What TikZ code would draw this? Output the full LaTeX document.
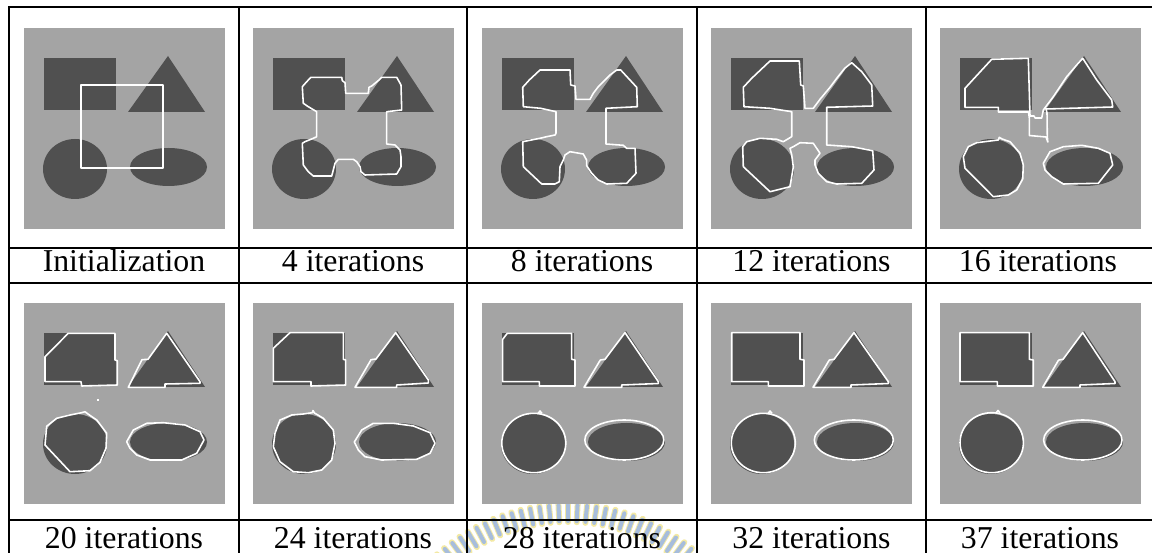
\documentclass[tikz,border=0pt]{standalone}
\usepackage{fontspec}
\setmainfont{Liberation Serif}
\usetikzlibrary{calc}
\definecolor{bggray}{HTML}{A4A4A4}
\definecolor{shapegray}{HTML}{505050}
\definecolor{sealyellow}{HTML}{F1E48E}
\definecolor{sealblue}{HTML}{94B2EA}
\tikzset{
  rule/.style={line width=1.4pt, black, line cap=rect},
  contour/.style={draw=white, line width=0.9pt, line join=round},
  caption/.style={anchor=base, inner sep=0pt, text depth=0pt, font=\fontsize{18.1}{20}\selectfont},
  sealray/.style={line cap=round, opacity=0.8},
}
% gray field with the four dark objects, in local pixel units
\newcommand\panelbase{%
  \fill[bggray] (0,0) rectangle (201,201);
  \fill[shapegray] (20,30) rectangle (92,82);
  \fill[shapegray] (144,28) -- (181,84) -- (104,84) -- cycle;
  \fill[shapegray] (51,141) ellipse [x radius=32, y radius=30];
  \fill[shapegray] (144.5,139) ellipse [x radius=38.5, y radius=19];
}
\begin{document}
\begin{tikzpicture}[x=0.02cm, y=-0.02cm]
\useasboundingbox (0,0) rectangle (1152,553);
\fill[white] (0,0) rectangle (1152,553);

% faint seal behind the lower captions
\begin{scope}
  \clip (0,0) rectangle (1152,553);
  \coordinate (seal) at (568,700);
  \foreach \a in {228,230.8,...,312} {
    \draw[sealray, sealyellow, line width=3.4pt] ($(seal)+(\a:178)$) -- ($(seal)+(\a:196)$);
    \draw[sealray, sealblue, line width=2.3pt] ($(seal)+(\a:179)$) -- ($(seal)+(\a:195)$);
  }
\end{scope}

% ---------------- first row ----------------
\begin{scope}[shift={(24,28)}]
  \panelbase
  \draw[contour] (57,57) rectangle (139,140);
\end{scope}

\begin{scope}[shift={(253,28)}]
  \panelbase
  \draw[contour] (58,49.3) -- (88.7,49.3) -- (89.3,52.7) -- (92,54.7) -- (92.7,65.3)
    -- (115.3,65.3) -- (116,59.3) -- (118.7,58) -- (126,52) -- (128.7,49.3)
    -- (143.7,49.3) -- (148,57) -- (148.7,82) -- (133.7,83.7) -- (133.7,116)
    -- (142,117) -- (147,122) -- (148,128.7) -- (148,138.7) -- (143.7,146)
    -- (112,147) -- (108,143.7) -- (107,138.7) -- (103.7,133.7) -- (100.3,131.3)
    -- (85.3,131.3) -- (82,135.3) -- (80.3,142) -- (78.7,148) -- (60.3,148)
    -- (55.3,143.7) -- (50.3,137) -- (49.3,115.3) -- (52,113.7) -- (60.3,110.3)
    -- (63.7,108.7) -- (63.7,83.7) -- (55.3,78.7) -- (50.3,75.3) -- (49.3,58.7)
    -- (53.7,53.7) -- cycle;
\end{scope}

\begin{scope}[shift={(482,28)}]
  \panelbase
  \draw[contour] (58,42) -- (88,42) -- (88.7,57) -- (93,58) -- (94,71.3)
    -- (108,71.3) -- (111.3,65.3) -- (116.3,58.7) -- (121.3,53.7) -- (128,47)
    -- (134.7,42) -- (138.7,42) -- (154.7,59.3) -- (155.3,78.7) -- (124,80.3)
    -- (124,116) -- (141.3,117.3) -- (144.7,120.3) -- (153,120.3) -- (154,145.3)
    -- (144.7,155.3) -- (124.7,156) -- (116.3,152) -- (109.7,145.3) -- (104.7,137.7)
    -- (104.7,132.3) -- (101.3,126) -- (88,123.7) -- (83,127) -- (81.3,132)
    -- (78,138.7) -- (77.3,153.7) -- (73,156) -- (59.7,156) -- (41.3,138.7)
    -- (40.7,113.7) -- (58,110.3) -- (64.7,108.7) -- (73,107) -- (74,105.3)
    -- (74,83.7) -- (58.7,80.3) -- (41.3,78.7) -- (40.7,59.3) -- (47.3,52) -- cycle;
\end{scope}

\begin{scope}[shift={(711,28)}]
  \panelbase
  \draw[contour] (59,33) -- (88.3,33) -- (89.7,57) -- (92.3,58) -- (94,80.3)
    -- (102.3,80.3) -- (109,71.3) -- (119,59.3) -- (125.7,50.3) -- (133.7,40.3)
    -- (140.7,34.7) -- (150.7,43.7) -- (160.7,57) -- (161.7,78) -- (115.7,79.3)
    -- (115.7,117) -- (140.7,118.7) -- (161.7,122.7) -- (163,142) -- (150.7,155.3)
    -- (125.7,156) -- (115.7,153.7) -- (107.3,145.3) -- (104,137) -- (104,132)
    -- (109,125.3) -- (102.3,115.3) -- (89,114.7) -- (82.3,118.7) -- (79,120.3)
    -- (80.7,126.7) -- (82.3,139) -- (79,158.7) -- (59,163.7) -- (32.3,138.7)
    -- (31.7,118.7) -- (35.7,113.7) -- (49,110.3) -- (65.7,111.3) -- (72.3,113.7)
    -- (80.7,108.7) -- (80.7,83.7) -- (59,80.3) -- (33,78.7) -- (32.3,59.3)
    -- (40.7,50.3) -- cycle;
\end{scope}

\begin{scope}[shift={(940,28)}]
  \panelbase
  \draw[contour] (51.7,31.3) -- (88.3,30.3) -- (90,88) -- (94,88) -- (95,90)
    -- (101.7,90) -- (103.3,82) -- (113.3,68.7) -- (126.7,48.7) -- (136.7,37)
    -- (142.7,30.3) -- (156.7,52) -- (171.7,72) -- (172.7,79) -- (106,81)
    -- (107,85) -- (107.3,108.7) -- (107.8,114) -- (106,109) -- (89.3,107.5)
    -- (89.3,90) -- (88.5,84) -- (58.3,84) -- (58.3,79.3) -- (25,79.3)
    -- (25,60.3) -- cycle;
  \draw[contour] (28.3,118.7) -- (36.7,114.7) -- (58.3,112) -- (59.3,109.3)
    -- (62,111) -- (70,113.7) -- (80,125.3) -- (83.3,137) -- (82.7,151)
    -- (76.7,162) -- (68.3,167) -- (53.3,168.7) -- (25,140.3) -- (23.3,128.7) -- cycle;
  \draw[contour] (103.3,135.3) -- (110,123.7) -- (123.3,118.7) -- (141.7,117.3)
    -- (158.3,120.3) -- (170,125.3) -- (172.7,137) -- (158.3,155.3) -- (123.3,156)
    -- (111.7,148.7) -- (105,142) -- cycle;
\end{scope}

% ---------------- second row ----------------
\begin{scope}[shift={(24,303)}]
  \panelbase
  \draw[contour] (44.3,30.3) -- (91,30.3) -- (91,57) -- (93.3,57.7) -- (93.3,82)
    -- (57.7,83) -- (57,78.7) -- (21,78.7) -- (21,53.7) -- cycle;
  \draw[contour] (142.7,30.3) -- (176,78.7) -- (176,80.3) -- (141,81) -- (141,84.3)
    -- (104.3,84.3) -- (117.3,58) -- (118,56.7) -- (124,56.3) -- cycle;
  \fill[white] (72.5,96) rectangle (75,98.5);
  \draw[contour] (57.7,109.7) -- (61,108.7) -- (64,111) -- (72.7,117) -- (82.7,130.3)
    -- (82,145.3) -- (76,159.3) -- (66,167.7) -- (46,168.7) -- (21,142)
    -- (22.7,123.3) -- (32.7,115.3) -- (46,112) -- cycle;
  \draw[contour] (102.7,138.7) -- (109.3,127) -- (122.7,120.3) -- (139.3,119.7)
    -- (161,122) -- (176,128.7) -- (180,137) -- (172.7,150.3) -- (157.7,157)
    -- (126,157) -- (112.7,152) -- (106,145.3) -- cycle;
\end{scope}

\begin{scope}[shift={(253,303)}]
  \panelbase
  \draw[contour] (37,29.7) -- (90.3,29.7) -- (90.3,56.3) -- (92.7,57) -- (92.7,82)
    -- (58,83) -- (58,78.7) -- (20.3,78.7) -- (20.3,45.3) -- cycle;
  \draw[contour] (142.7,29.7) -- (175.3,77) -- (175.3,80) -- (143.7,82) -- (143.7,84.3)
    -- (102,84.3) -- (117.3,58) -- (118,56.7) -- (123,56) -- cycle;
  \draw[contour] (22,130.3) -- (27,117) -- (38.7,112) -- (50.3,111) -- (59.3,109.7)
    -- (60,107.5) -- (61.5,110) -- (70.3,115.3) -- (80.3,127) -- (82,140.3)
    -- (78.7,157) -- (68.7,167) -- (55.3,169.7) -- (40.3,168.7) -- (27,158.7)
    -- (20.3,143.7) -- cycle;
  \draw[contour] (101.3,139) -- (108.7,127) -- (120.3,120.3) -- (140.3,120.3)
    -- (160.3,123) -- (177,129.7) -- (182,140.3) -- (177,150.3) -- (163.7,156.3)
    -- (128.7,157) -- (112,153.7) -- (105.3,147) -- cycle;
\end{scope}

\begin{scope}[shift={(482,303)}]
  \panelbase
  \draw[contour] (25.3,30.3) -- (89.7,30.3) -- (89.7,56.3) -- (93,57) -- (93,83)
    -- (57.3,83) -- (57.3,78.7) -- (20.7,78.7) -- (20.7,36.3) -- cycle;
  \draw[contour] (143,29.7) -- (176.3,78.7) -- (176.3,80.5) -- (139.7,82) -- (139.7,84.3)
    -- (102,84.3) -- (117.7,58) -- (118.5,57) -- (123,56.3) -- cycle;
  \draw[contour] (51.8,140) ellipse [x radius=32, y radius=29.7];
  \draw[contour] (56,110.6) -- (58,108) -- (60,110.4);
  \draw[contour] (142.3,137) ellipse [x radius=39.5, y radius=20];
\end{scope}

\begin{scope}[shift={(711,303)}]
  \panelbase
  \draw[contour] (20.7,29.7) -- (89,29.7) -- (89,56.3) -- (93,57) -- (93,83)
    -- (57.3,83) -- (57.3,78.7) -- (20.7,78.7) -- cycle;
  \draw[contour] (143,29.7) -- (177.3,78.7) -- (177.3,80.5) -- (140,82) -- (140,84.3)
    -- (102,84.3) -- (117.7,58) -- (118.5,57) -- (123,56.3) -- cycle;
  \draw[contour] (52.3,140) ellipse [x radius=32, y radius=29.7];
  \draw[contour] (57,110.6) -- (59,108) -- (61,110.4);
  \draw[contour] (142.8,137) ellipse [x radius=39.5, y radius=20];
\end{scope}

\begin{scope}[shift={(940,303)}]
  \panelbase
  \draw[contour] (20,29.7) -- (89.3,29.7) -- (89.3,56.3) -- (93.3,57) -- (93.3,83)
    -- (57.3,83) -- (57.3,78.7) -- (20,78.7) -- cycle;
  \draw[contour] (142.7,29.7) -- (175,78.7) -- (175,80.5) -- (140,82) -- (140,84.3)
    -- (102.7,84.3) -- (118,58) -- (119,57) -- (123,56.3) -- cycle;
  \draw[contour] (51.7,139.7) ellipse [x radius=31.7, y radius=30];
  \draw[contour] (56,110) -- (58,107.5) -- (60,109.8);
  \draw[contour] (142.8,137) ellipse [x radius=39.2, y radius=20];
\end{scope}

% ---------------- table rules ----------------
\foreach \yy in {7,248,283,520}
  \draw[rule] (9,\yy) -- (1152,\yy);
\foreach \xx in {9,239,467,697,926}
  \draw[rule] (\xx,7) -- (\xx,553);

% ---------------- captions ----------------
\node[caption] (cap1)  at (124,271.5)  {Initialization};
\node[caption] (cap2)  at (353,271.5)  {4 iterations};
\node[caption] (cap3)  at (582,271.5)  {8 iterations};
\node[caption] (cap4)  at (811.5,271.5) {12 iterations};
\node[caption] (cap5)  at (1038,271.5) {16 iterations};
\node[caption] (cap6)  at (124,548)    {20 iterations};
\node[caption] (cap7)  at (353,548)    {24 iterations};
\node[caption] (cap8)  at (582,548)    {28 iterations};
\node[caption] (cap9)  at (811.5,548)  {32 iterations};
\node[caption] (cap10) at (1040,548)   {37 iterations};
\end{tikzpicture}
\end{document}
